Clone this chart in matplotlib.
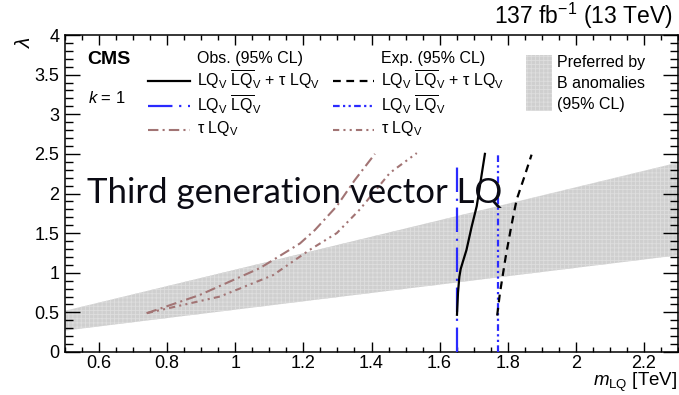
import numpy as np
import matplotlib
matplotlib.use("Agg")
import matplotlib.pyplot as plt
from matplotlib.lines import Line2D
from matplotlib.patches import Rectangle
from matplotlib.ticker import MultipleLocator

plt.rcParams['font.family'] = ['Liberation Sans', 'DejaVu Sans']
plt.rcParams['mathtext.fontset'] = 'custom'
plt.rcParams['mathtext.rm'] = 'Liberation Sans'
plt.rcParams['mathtext.it'] = 'Liberation Sans:italic'
plt.rcParams['hatch.linewidth'] = 0.6

# band preferred by the B anomalies (95% CL)
band_m = [0.5, 2.3]
band_lo = [0.27, 1.22]
band_hi = [0.52, 2.39]

# observed limits
obs_comb_m = [1.651, 1.654, 1.658, 1.662, 1.679, 1.694, 1.709, 1.733]
obs_comb_l = [0.47, 0.75, 0.95, 1.05, 1.29, 1.58, 1.84, 2.50]
obs_pair_m = [1.651, 1.651]
obs_pair_l = [0.0, 2.36]
obs_tau_m = [0.740, 0.896, 1.073, 1.190, 1.234, 1.298, 1.351, 1.410]
obs_tau_l = [0.49, 0.72, 1.06, 1.37, 1.54, 1.84, 2.17, 2.50]

# expected limits
exp_comb_m = [1.769, 1.777, 1.794, 1.811, 1.826, 1.848, 1.870]
exp_comb_l = [0.46, 0.74, 1.20, 1.60, 1.92, 2.20, 2.49]
exp_pair_m = [1.771, 1.771]
exp_pair_l = [0.0, 2.49]
exp_tau_m = [0.740, 0.955, 1.111, 1.219, 1.298, 1.366, 1.454, 1.533]
exp_tau_l = [0.49, 0.70, 0.97, 1.29, 1.50, 1.80, 2.26, 2.51]

W, H = 679, 395
fig = plt.figure(figsize=(W / 100, H / 100), dpi=100)
ax = fig.add_axes([65 / W, 1 - 352 / H, 613 / W, 317 / H])

def fx(px):
    return px / W

def fy(py):
    return 1 - py / H

blue = '#2a2aff'
brown = '#a27474'
gray = '#cfcfcf'

st = {
    'obs_comb': dict(color='black', lw=1.6, ls='-'),
    'obs_pair': dict(color=blue, lw=1.6, dashes=(11, 3, 1, 3)),
    'obs_tau': dict(color=brown, lw=1.5, dashes=(5, 2, 1, 2)),
    'exp_comb': dict(color='black', lw=1.6, dashes=(3.5, 2.5)),
    'exp_pair': dict(color=blue, lw=1.6, dashes=(3, 1.5, 1, 1.5, 1, 1.5)),
    'exp_tau': dict(color=brown, lw=1.5, dashes=(3, 2, 1, 2, 1, 2)),
}

ax.fill_between(band_m, band_lo, band_hi, facecolor=gray, edgecolor='#dedede',
                hatch='++++', lw=0, zorder=1)

ax.plot(obs_tau_m, obs_tau_l, **st['obs_tau'], zorder=3)
ax.plot(exp_tau_m, exp_tau_l, **st['exp_tau'], zorder=3)
ax.plot(obs_pair_m, obs_pair_l, **st['obs_pair'], zorder=3)
ax.plot(exp_pair_m, exp_pair_l, **st['exp_pair'], zorder=3)
ax.plot(exp_comb_m, exp_comb_l, **st['exp_comb'], zorder=4)
ax.plot(obs_comb_m, obs_comb_l, **st['obs_comb'], zorder=4)

ax.set_xlim(0.5, 2.3)
ax.set_ylim(0, 4)
ax.xaxis.set_minor_locator(MultipleLocator(0.05))
ax.yaxis.set_minor_locator(MultipleLocator(0.1))
ax.set_xticks(np.arange(0.6, 2.21, 0.2))
ax.set_xticklabels(['0.6', '0.8', '1', '1.2', '1.4', '1.6', '1.8', '2', '2.2'])
ax.set_yticks(np.arange(0, 4.01, 0.5))
ax.set_yticklabels(['0', '0.5', '1', '1.5', '2', '2.5', '3', '3.5', '4'])
ax.tick_params(axis='x', which='major', direction='in', length=7.5, width=1.0,
               top=True, labelsize=13, pad=2.5)
ax.tick_params(axis='x', which='minor', direction='in', length=3.8, width=1.0, top=True)
ax.tick_params(axis='y', which='major', direction='in', length=11, width=1.0,
               right=True, labelsize=13, pad=4)
ax.tick_params(axis='y', which='minor', direction='in', length=5.5, width=1.0, right=True)
for sp in ax.spines.values():
    sp.set_linewidth(1.1)

fig.text(fx(677), fy(394), r'$m_{\mathrm{LQ}}$ [TeV]', ha='right', va='bottom', fontsize=13.5)
fig.text(fx(24), fy(42), r'$\lambda$', ha='center', va='center', fontsize=15, rotation=90)
fig.text(fx(673), fy(16), r'137 fb$^{-1}$ (13 TeV)', ha='right', va='center', fontsize=16.5)

fig.text(fx(87), fy(60), 'CMS', ha='left', va='center', fontsize=14, fontweight='bold')
fig.text(fx(88), fy(98), r'$k$ = 1', ha='left', va='center', fontsize=12)

comb_lbl = r'LQ$_\mathrm{V}$ $\overline{\mathrm{LQ}}_\mathrm{V}$ + τ LQ$_\mathrm{V}$'
pair_lbl = r'LQ$_\mathrm{V}$ $\overline{\mathrm{LQ}}_\mathrm{V}$'
tau_lbl = r'τ LQ$_\mathrm{V}$'

leg_rows = [81, 106, 130]
for x0, x1, xt, head, keys in [
        (148, 190, 197, 'Obs. (95% CL)', ['obs_comb', 'obs_pair', 'obs_tau']),
        (333, 374, 381, 'Exp. (95% CL)', ['exp_comb', 'exp_pair', 'exp_tau'])]:
    fig.text(fx(xt), fy(58), head, ha='left', va='center', fontsize=11.5)
    for row, key, lbl in zip(leg_rows, keys, [comb_lbl, pair_lbl, tau_lbl]):
        fig.add_artist(Line2D([fx(x0), fx(x1)], [fy(row), fy(row)], **st[key]))
        fig.text(fx(xt), fy(row - 1), lbl, ha='left', va='center', fontsize=11.5)

fig.add_artist(Rectangle((fx(526), fy(111)), fx(552) - fx(526), fy(55) - fy(111),
                         facecolor=gray, edgecolor='#dedede', hatch='++++', lw=0,
                         transform=fig.transFigure))
for row, txt in zip([63, 84, 104], ['Preferred by', 'B anomalies', '(95% CL)']):
    fig.text(fx(557), fy(row), txt, ha='left', va='center', fontsize=11.5)

fig.text(fx(87), fy(203), 'Third generation vector LQ', ha='left', va='baseline',
         fontsize=25, family=['Lato', 'DejaVu Sans'], color='#0b0b14', zorder=10)

fig.savefig('out.png', dpi=100)
